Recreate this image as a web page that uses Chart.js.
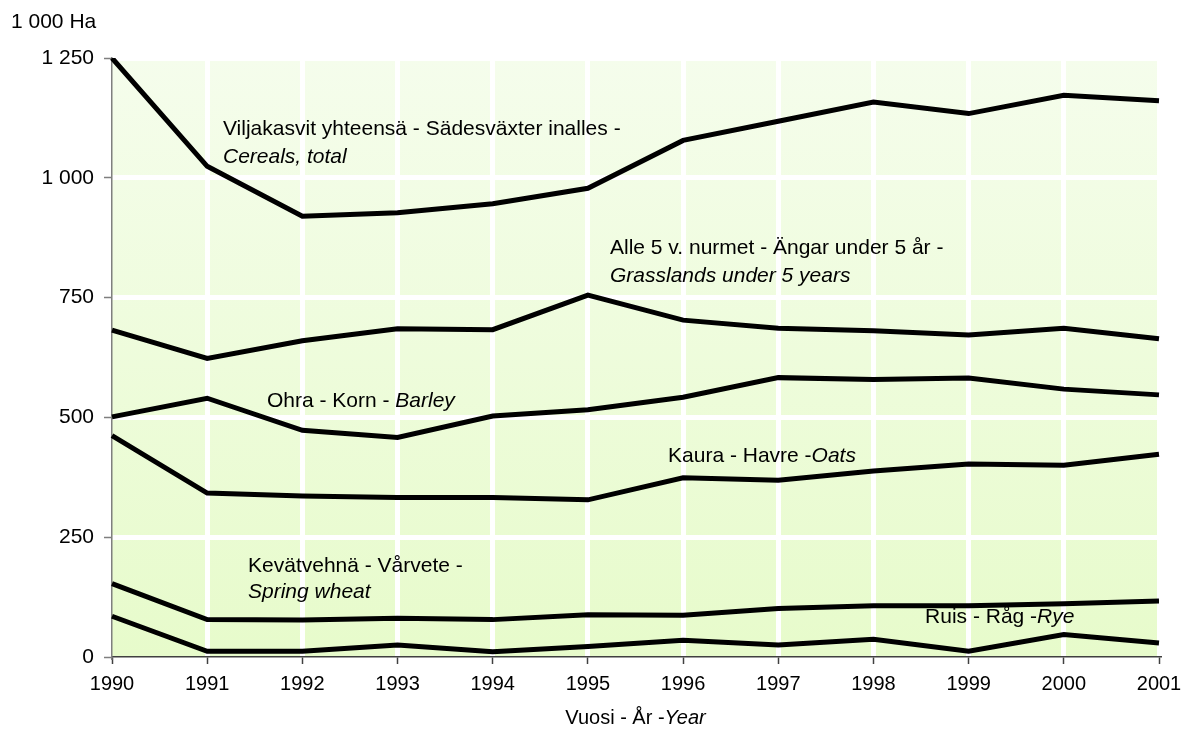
<!DOCTYPE html>
<html lang="fi">
<head>
<meta charset="utf-8">
<title>Viljakasvien ja nurmien ala 1990–2001</title>
<script src="https://cdn.jsdelivr.net/npm/chart.js@4.4.1/dist/chart.umd.min.js"></script>
<style>
    html, body { margin: 0; padding: 0; background: #ffffff; }
    #kaavio { display: block; }
</style>
</head>
<body>
<canvas id="kaavio" width="1181" height="733"></canvas>
<script>
// Vuodet ja alat (1 000 ha)
const vuodet = ['1990', '1991', '1992', '1993', '1994', '1995', '1996', '1997', '1998', '1999', '2000', '2001'];

const viljatYhteensa = [1250, 1024, 920, 927, 946, 978, 1078, 1118, 1158, 1134, 1172, 1161];
const nurmetAlle5v = [682, 623, 660, 685, 683, 755, 703, 686, 681, 672, 686, 664];
const ohra = [501, 540, 473, 458, 503, 516, 542, 583, 579, 582, 559, 547];
const kaura = [462, 342, 336, 333, 333, 328, 374, 369, 388, 403, 400, 423];
const kevatvehna = [153, 78, 77, 81, 78, 88, 87, 101, 107, 107, 111, 117];
const ruis = [85, 12, 12, 25, 11, 22, 35, 25, 37, 12, 47, 29];

const yAkseliMax = 1250;
const yAkseliVali = 250;

const FONTTI = '"Liberation Sans", Arial, Helvetica, sans-serif';

// Sarjojen nimet piirretään suoraan kuvaan: x = vuoden indeksi, y = arvo
const nimiTekstit = [
    { x: 1.166, y: 1102, osat: [['Viljakasvit yhteensä - Sädesväxter inalles -', false]] },
    { x: 1.166, y: 1043, osat: [['Cereals, total', true]] },
    { x: 5.232, y: 853, osat: [['Alle 5 v. nurmet - Ängar under 5 år -', false]] },
    { x: 5.232, y: 795, osat: [['Grasslands under 5 years', true]] },
    { x: 1.628, y: 534, osat: [['Ohra - Korn - ', false], ['Barley', true]] },
    { x: 5.842, y: 419, osat: [['Kaura - Havre -', false], ['Oats', true]] },
    { x: 1.429, y: 190, osat: [['Kevätvehnä - Vårvete -', false]] },
    { x: 1.429, y: 136, osat: [['Spring wheat', true]] },
    { x: 8.542, y: 83, osat: [['Ruis - Råg -', false], ['Rye', true]] }
];

function muotoileLuku(arvo) {
    return String(arvo).replace(/\B(?=(\d{3})+(?!\d))/g, ' ');
}

function fontti(kursiivi, koko) {
    return (kursiivi ? 'italic ' : '') + koko + 'px ' + FONTTI;
}

// Piirtää tekstin, jossa osa voi olla kursiivilla
function piirraOsat(ctx, osat, x, y, koko, keskitys) {
    let leveys = 0;
    osat.forEach(([teksti, kursiivi]) => {
        ctx.font = fontti(kursiivi, koko);
        leveys += ctx.measureText(teksti).width;
    });
    let kohta = keskitys ? x - leveys / 2 : x;
    osat.forEach(([teksti, kursiivi]) => {
        ctx.font = fontti(kursiivi, koko);
        ctx.fillText(teksti, kohta, y);
        kohta += ctx.measureText(teksti).width;
    });
}

// Vaaleanvihreä liukuväritausta piirtoalueelle
const taustaPlugin = {
    id: 'tausta',
    beforeDraw(chart) {
        const { ctx, chartArea } = chart;
        const liuku = ctx.createLinearGradient(0, chartArea.top, 0, chartArea.bottom);
        liuku.addColorStop(0, '#f5fdec');
        liuku.addColorStop(1, '#e7fbcb');
        ctx.save();
        ctx.fillStyle = liuku;
        ctx.fillRect(chartArea.left, chartArea.top, chartArea.right - chartArea.left, chartArea.bottom - chartArea.top);
        ctx.restore();
    }
};

// Sarjojen nimet, yksikkö ja x-akselin otsikko
const tekstiPlugin = {
    id: 'tekstit',
    afterDatasetsDraw(chart) {
        const { ctx, scales, chartArea } = chart;
        ctx.save();
        ctx.fillStyle = '#000000';
        ctx.textBaseline = 'middle';
        ctx.textAlign = 'left';
        nimiTekstit.forEach(t => {
            const px = scales.x.getPixelForDecimal(t.x / (vuodet.length - 1));
            const py = scales.y.getPixelForValue(t.y);
            piirraOsat(ctx, t.osat, px, py, 21, false);
        });

        piirraOsat(ctx, [['1 000 Ha', false]], 11, 22, 21, false);

        const keskiX = (chartArea.left + chartArea.right) / 2;
        piirraOsat(ctx, [['Vuosi - År -', false], ['Year', true]], keskiX, 718, 20, true);
        ctx.restore();
    }
};

const sarjat = [viljatYhteensa, nurmetAlle5v, ohra, kaura, kevatvehna, ruis];

const chartConfig = {
    type: 'line',
    data: {
        labels: vuodet,
        datasets: sarjat.map(arvot => ({
            data: arvot,
            borderColor: '#000000',
            borderWidth: 5,
            pointRadius: 0,
            tension: 0,
            fill: false
        }))
    },
    options: {
        responsive: false,
        devicePixelRatio: 1,
        animation: false,
        layout: {
            padding: { top: 58, right: 22, bottom: 0, left: 0 }
        },
        scales: {
            x: {
                type: 'category',
                offset: false,
                afterFit(scale) {
                    scale.height = 76;
                    scale.paddingLeft = 0;
                    scale.paddingRight = 0;
                },
                grid: {
                    offset: false,
                    color: ctx => ctx.index === 0 ? 'rgba(0,0,0,0)' : '#ffffff',
                    lineWidth: 5,
                    tickColor: '#404040',
                    tickWidth: 1.5,
                    tickLength: 7
                },
                border: { color: '#404040', width: 1.5 },
                ticks: {
                    color: '#000000',
                    font: { family: FONTTI, size: 20 },
                    padding: 8,
                    maxRotation: 0,
                    autoSkip: false
                }
            },
            y: {
                min: 0,
                max: yAkseliMax,
                afterFit(scale) {
                    scale.width = 112;
                    scale.paddingTop = 0;
                    scale.paddingBottom = 0;
                },
                grid: {
                    color: ctx => ctx.index === 0 ? 'rgba(0,0,0,0)' : '#ffffff',
                    lineWidth: 5,
                    tickColor: '#7f7f7f',
                    tickWidth: 1.5,
                    tickLength: 8
                },
                border: { color: '#7f7f7f', width: 1.5 },
                ticks: {
                    stepSize: yAkseliVali,
                    color: '#000000',
                    font: { family: FONTTI, size: 21 },
                    padding: 10,
                    callback: value => muotoileLuku(value)
                }
            }
        },
        plugins: {
            legend: { display: false },
            tooltip: { enabled: false }
        }
    },
    plugins: [taustaPlugin, tekstiPlugin]
};

new Chart(document.getElementById('kaavio'), chartConfig);
</script>
</body>
</html>
